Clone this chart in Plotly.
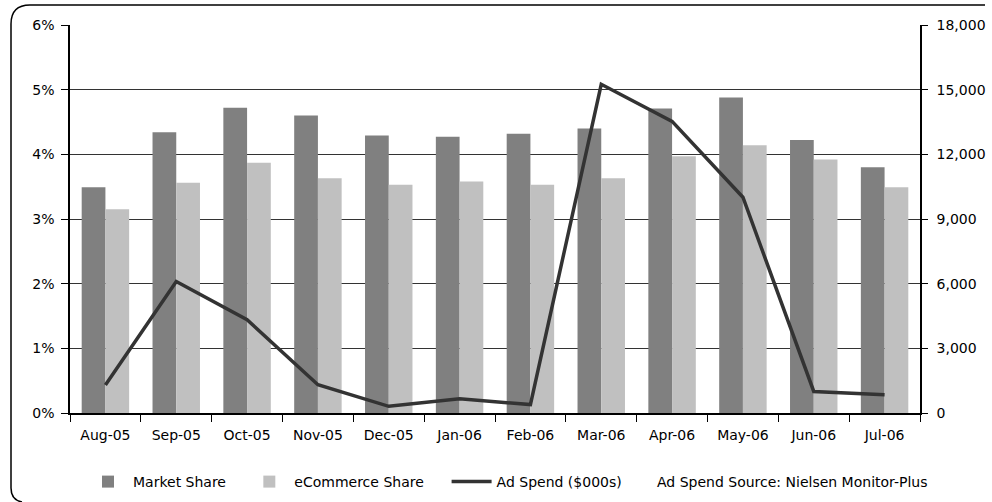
import plotly.graph_objects as go

months = ["Aug-05", "Sep-05", "Oct-05", "Nov-05", "Dec-05", "Jan-06",
          "Feb-06", "Mar-06", "Apr-06", "May-06", "Jun-06", "Jul-06"]
market_share = [3.49, 4.34, 4.72, 4.60, 4.29, 4.27, 4.32, 4.40, 4.71, 4.88, 4.22, 3.80]
ecommerce_share = [3.15, 3.56, 3.87, 3.63, 3.53, 3.58, 3.53, 3.63, 3.97, 4.14, 3.92, 3.49]
ad_spend = [1300, 6100, 4330, 1310, 310, 660, 390, 15250, 13530, 10010, 1000, 850]

left_ticks = [0, 1, 2, 3, 4, 5, 6]
left_labels = ["0%", "1%", "2%", "3%", "4%", "5%", "6%"]
right_ticks = [0, 3000, 6000, 9000, 12000, 15000, 18000]
right_labels = ["0", "3,000", "6,000", "9,000", "12,000", "15,000", "18,000"]

FONT = "DejaVu Sans, Liberation Sans, Arial, sans-serif"
FS = 14

fig = go.Figure()
fig.add_trace(go.Bar(x=months, y=market_share, name="Market Share" + "\u00a0" * 3,
                     marker=dict(color="#808080", line=dict(width=0))))
fig.add_trace(go.Bar(x=months, y=ecommerce_share, name="eCommerce Share" + "\u00a0" * 4,
                     marker=dict(color="#c0c0c0", line=dict(width=0))))
fig.add_trace(go.Scatter(x=months, y=ad_spend, name="Ad Spend ($000s)", yaxis="y2",
                         mode="lines", line=dict(color="#333333", width=3.5)))

# plot area: x 70..920, y 25..413
W, H = 992, 502
L, R, T, B = 70, 72, 25, 89
pw, ph = W - L - R, H - T - B

def px(x):
    return (x - L) / pw

def py(y):
    return (H - B - y) / ph

frame = (f"M {px(985)},{py(5)} L {px(30)},{py(5)} "
         f"Q {px(11)},{py(5)} {px(11)},{py(24)} "
         f"L {px(11)},{py(488)} Q {px(11)},{py(500)} {px(22)},{py(502)}")

fig.update_layout(
    width=W, height=H,
    margin=dict(l=L, r=R, t=T, b=B, autoexpand=False),
    paper_bgcolor="white", plot_bgcolor="white",
    barmode="group", bargap=0.33, bargroupgap=0,
    font=dict(family=FONT, size=FS, color="#000000"),
    xaxis=dict(type="category", tickson="boundaries", ticks="outside", ticklen=7,
               tickcolor="#000", showline=True, linecolor="#000", linewidth=1.5,
               showgrid=False, tickfont=dict(size=FS), ticklabelstandoff=8,
               automargin=False),
    yaxis=dict(range=[0, 6], tickvals=left_ticks, ticktext=left_labels,
               ticks="outside", ticklen=7, tickcolor="#000",
               showline=True, linecolor="#000", linewidth=1.5,
               showgrid=True, gridcolor="#333333", gridwidth=1,
               zeroline=False, tickfont=dict(size=FS), ticklabelstandoff=4,
               automargin=False),
    yaxis2=dict(range=[0, 18000], tickvals=right_ticks, ticktext=right_labels,
                overlaying="y", side="right", ticks="outside", ticklen=6,
                tickcolor="#000", showline=True, linecolor="#000", linewidth=1.5,
                showgrid=False, zeroline=False, tickfont=dict(size=FS),
                ticklabelstandoff=6, automargin=False),
    legend=dict(orientation="h", x=px(83), y=py(482), xanchor="left", yanchor="middle",
                font=dict(size=FS), traceorder="normal", itemwidth=40,
                bgcolor="rgba(0,0,0,0)"),
    showlegend=True,
    shapes=[dict(type="path", xref="paper", yref="paper", path=frame,
                 line=dict(color="#000", width=1.5), layer="above")],
    annotations=[dict(text="Ad Spend Source: Nielsen Monitor-Plus", xref="paper", yref="paper",
                      x=px(655), y=py(482), xanchor="left", yanchor="middle",
                      showarrow=False, font=dict(size=FS))],
)

fig.write_html("out.html")
